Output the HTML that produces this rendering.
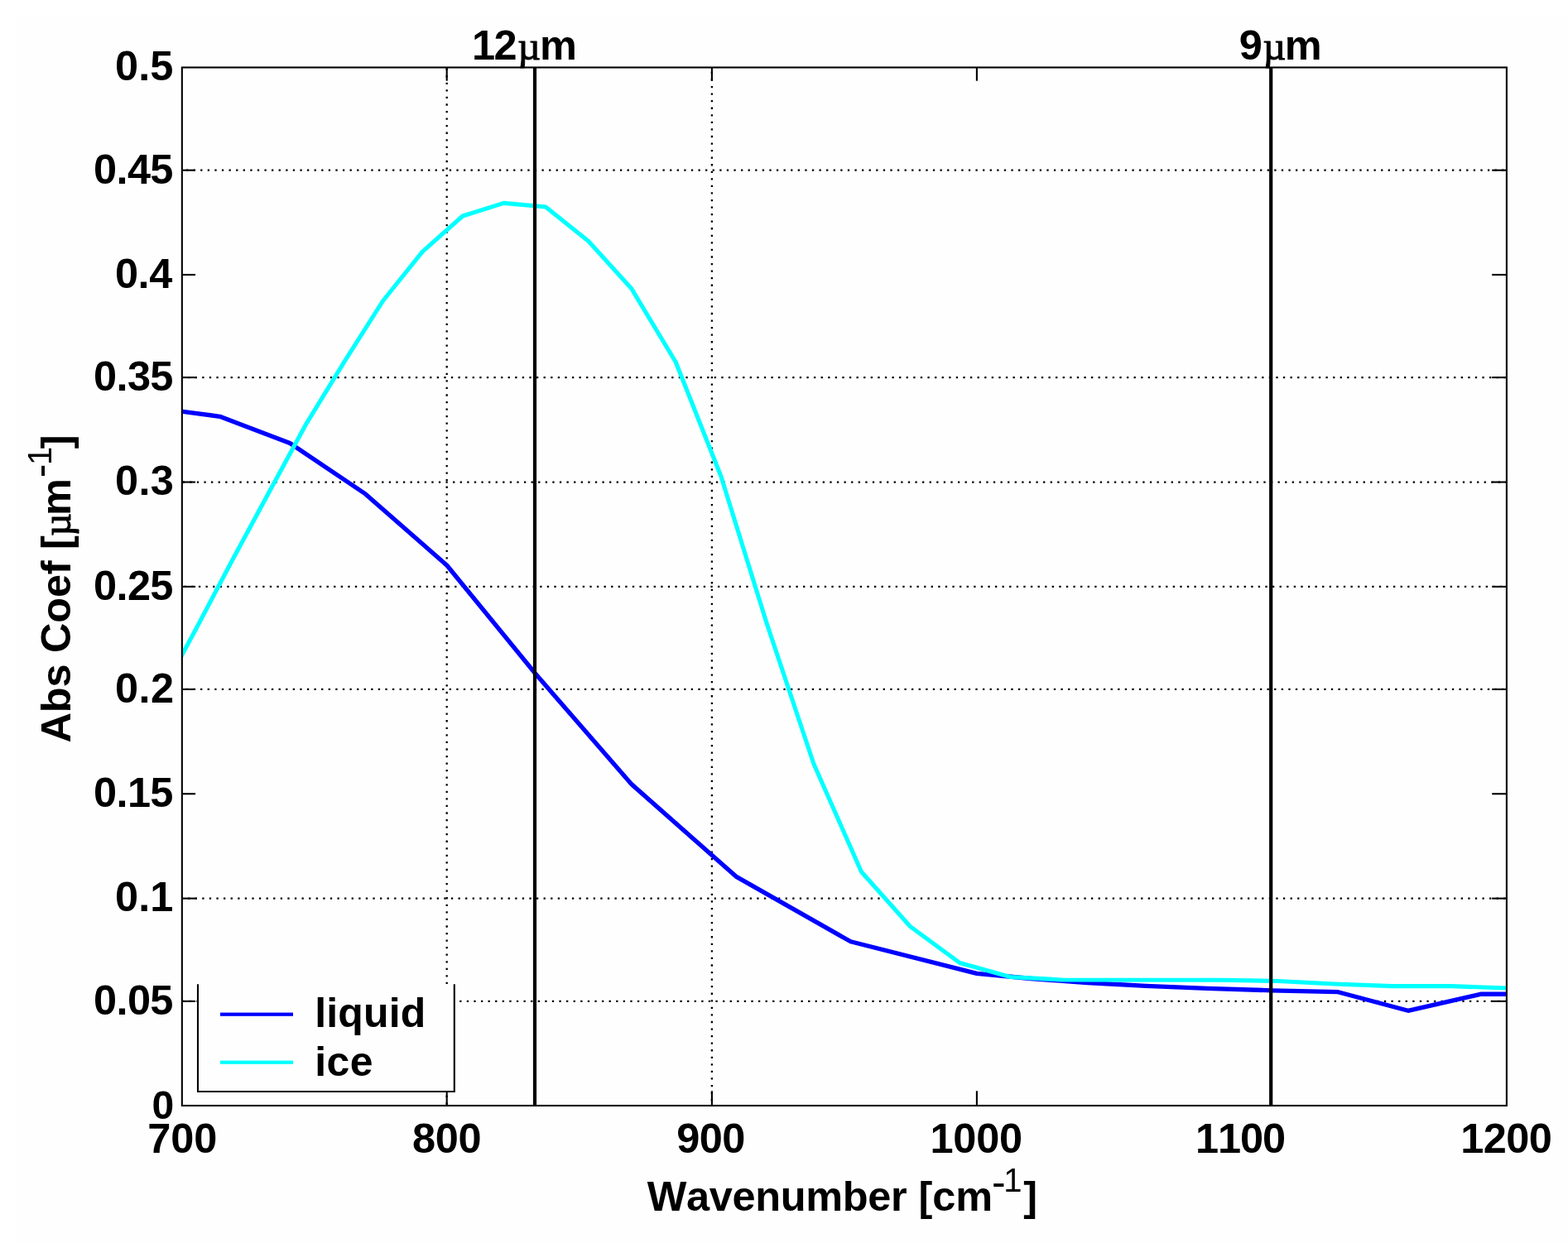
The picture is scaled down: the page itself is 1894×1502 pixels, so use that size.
<!DOCTYPE html>
<html lang="en"><head><meta charset="utf-8"><title>Absorption coefficient of liquid water and ice vs wavenumber</title>
<style>html,body{margin:0;padding:0;background:#fff}body{width:1894px;height:1502px;overflow:hidden}svg{display:block}text{fill:#000;font-family:'Liberation Sans',Arial,Helvetica,sans-serif;font-weight:bold;white-space:pre}</style></head><body>
<svg xmlns="http://www.w3.org/2000/svg" width="1894" height="1502" viewBox="0 0 1894 1502">
<rect x="0" y="0" width="1894" height="1502" fill="#fff"/>
<rect x="21" y="18" width="1873" height="1484" fill="#fefefe"/>
<defs><clipPath id="pc"><rect x="219.85" y="81.50" width="1600.05" height="1254.50"/></clipPath></defs>
<g id="grid" stroke="#000" stroke-width="2.30" fill="none">
<line x1="224.97" y1="205.70" x2="1819.90" y2="205.70" stroke-dasharray="2.30 6.29"/>
<line x1="227.07" y1="456.10" x2="1819.90" y2="456.10" stroke-dasharray="2.30 6.29"/>
<line x1="220.65" y1="582.55" x2="1819.90" y2="582.55" stroke-dasharray="2.30 6.29"/>
<line x1="222.72" y1="708.90" x2="1819.90" y2="708.90" stroke-dasharray="2.30 6.29"/>
<line x1="224.87" y1="832.95" x2="1819.90" y2="832.95" stroke-dasharray="2.30 6.29"/>
<line x1="227.07" y1="1085.65" x2="1819.90" y2="1085.65" stroke-dasharray="2.30 6.29"/>
<line x1="220.17" y1="1209.90" x2="1819.90" y2="1209.90" stroke-dasharray="2.30 6.29"/>
<line x1="539.70" y1="82.57" x2="539.70" y2="1336.00" stroke-dasharray="2.30 6.26"/>
<line x1="859.90" y1="86.80" x2="859.90" y2="1336.00" stroke-dasharray="2.30 6.26"/>
</g>
<g id="curves" clip-path="url(#pc)" fill="none" stroke-linejoin="round" stroke-linecap="butt">
<path id="liquid" stroke="#0000ff" stroke-width="5.3" d="M186.7 492.9 L265.6 503.3 L350.2 535.5 L441.4 596.9 L539.9 683.3 L646.5 813.7 L762.5 947.3 L889.0 1059.1 L1027.5 1137.8 L1179.9 1176.4 L1245.2 1182.5 L1313.2 1187.5 L1384.1 1191.4 L1458.1 1194.4 L1535.4 1196.8 L1616.3 1198.7 L1700.8 1221.3 L1789.4 1201.1 L1882.3 1201.6"/>
<path id="ice" stroke="#00ffff" stroke-width="5.1" d="M214.0 802.5 L220.0 791.0 L237.3 759.0 L280.8 676.5 L325.0 594.8 L370.1 511.8 L415.9 437.2 L462.6 363.5 L510.3 304.1 L558.9 261.0 L608.5 245.4 L659.1 250.0 L710.6 291.3 L762.8 348.8 L816.2 437.5 L870.9 575.5 L926.3 753.7 L982.9 923.0 L1040.5 1053.5 L1099.4 1119.5 L1159.3 1163.5 L1220.4 1180.5 L1282.5 1184.0 L1476.4 1184.2 L1543.6 1185.5 L1612.1 1189.0 L1681.8 1191.6 L1752.9 1191.6 L1825.2 1194.2"/>
</g>
<g id="markers" stroke="#000" stroke-width="4.2" fill="none">
<line x1="646.0" y1="81.50" x2="646.0" y2="1336.00"/>
<line x1="1535.2" y1="81.50" x2="1535.2" y2="1336.00"/>
</g>
<g id="legend">
<rect x="237.95" y="1189.30" width="311.90" height="130.75" fill="#fefefe"/>
<path d="M239.00 1189.30 V1319.00 H548.80 V1189.30" stroke="#000" stroke-width="2.10" fill="none"/>
<rect x="266" y="1223.6" width="88" height="4.2" fill="#0000ff"/>
<rect x="266" y="1281.6" width="88" height="4.2" fill="#00ffff"/>
<text><tspan x="380.31 394.33 408.35 439.02 469.69 483.70" y="1241.00" font-family="'Liberation Sans',Arial,Helvetica,sans-serif" font-weight="bold" font-size="50.00">liquid</tspan></text>
<text><tspan x="380.31 394.52 422.65" y="1300.40" font-family="'Liberation Sans',Arial,Helvetica,sans-serif" font-weight="bold" font-size="50.00">ice</tspan></text>
</g>
<g id="axes" stroke="#000" stroke-width="2.10" fill="none">
<line x1="219.85" y1="1209.90" x2="236.05" y2="1209.90"/>
<line x1="1819.90" y1="1209.90" x2="1802.20" y2="1209.90"/>
<line x1="219.85" y1="1085.65" x2="237.85" y2="1085.65"/>
<line x1="1819.90" y1="1085.65" x2="1802.20" y2="1085.65"/>
<line x1="219.85" y1="959.25" x2="236.05" y2="959.25"/>
<line x1="1819.90" y1="959.25" x2="1802.20" y2="959.25"/>
<line x1="219.85" y1="832.95" x2="236.05" y2="832.95"/>
<line x1="1819.90" y1="832.95" x2="1802.20" y2="832.95"/>
<line x1="219.85" y1="708.90" x2="236.05" y2="708.90"/>
<line x1="1819.90" y1="708.90" x2="1802.20" y2="708.90"/>
<line x1="219.85" y1="582.55" x2="236.05" y2="582.55"/>
<line x1="1819.90" y1="582.55" x2="1802.20" y2="582.55"/>
<line x1="219.85" y1="456.10" x2="237.85" y2="456.10"/>
<line x1="1819.90" y1="456.10" x2="1802.20" y2="456.10"/>
<line x1="219.85" y1="332.00" x2="236.05" y2="332.00"/>
<line x1="1819.90" y1="332.00" x2="1802.20" y2="332.00"/>
<line x1="219.85" y1="205.70" x2="236.05" y2="205.70"/>
<line x1="1819.90" y1="205.70" x2="1802.20" y2="205.70"/>
<line x1="539.70" y1="1336.00" x2="539.70" y2="1319.00"/>
<line x1="539.70" y1="81.50" x2="539.70" y2="97.70"/>
<line x1="859.90" y1="1336.00" x2="859.90" y2="1318.30"/>
<line x1="859.90" y1="81.50" x2="859.90" y2="97.70"/>
<line x1="1179.90" y1="1336.00" x2="1179.90" y2="1318.30"/>
<line x1="1179.90" y1="81.50" x2="1179.90" y2="97.70"/>
<rect x="219.85" y="81.50" width="1600.05" height="1254.50"/>
</g>
<g id="ylabels">
<text><tspan x="183.47" y="1351.80" font-family="'Liberation Sans',Arial,Helvetica,sans-serif" font-weight="bold" font-size="48.00">0</tspan></text>
<text><tspan x="113.10 140.53 153.90 181.32" y="1225.70" font-family="'Liberation Sans',Arial,Helvetica,sans-serif" font-weight="bold" font-size="50.50">0.05</tspan></text>
<text><tspan x="139.00 167.19 181.32" y="1101.45" font-family="'Liberation Sans',Arial,Helvetica,sans-serif" font-weight="bold" font-size="50.50">0.1</tspan></text>
<text><tspan x="113.10 140.53 153.90 181.32" y="975.05" font-family="'Liberation Sans',Arial,Helvetica,sans-serif" font-weight="bold" font-size="50.50">0.15</tspan></text>
<text><tspan x="139.00 167.50 181.94" y="848.75" font-family="'Liberation Sans',Arial,Helvetica,sans-serif" font-weight="bold" font-size="50.50">0.2</tspan></text>
<text><tspan x="113.10 140.53 153.90 181.32" y="724.70" font-family="'Liberation Sans',Arial,Helvetica,sans-serif" font-weight="bold" font-size="50.50">0.25</tspan></text>
<text><tspan x="139.00 167.40 181.74" y="598.35" font-family="'Liberation Sans',Arial,Helvetica,sans-serif" font-weight="bold" font-size="50.50">0.3</tspan></text>
<text><tspan x="113.10 140.53 153.90 181.32" y="471.90" font-family="'Liberation Sans',Arial,Helvetica,sans-serif" font-weight="bold" font-size="50.50">0.35</tspan></text>
<text><tspan x="139.00 166.62 180.19" y="347.80" font-family="'Liberation Sans',Arial,Helvetica,sans-serif" font-weight="bold" font-size="50.50">0.4</tspan></text>
<text><tspan x="113.10 140.53 153.90 181.32" y="221.50" font-family="'Liberation Sans',Arial,Helvetica,sans-serif" font-weight="bold" font-size="50.50">0.45</tspan></text>
<text><tspan x="139.00 167.19 181.32" y="97.30" font-family="'Liberation Sans',Arial,Helvetica,sans-serif" font-weight="bold" font-size="50.50">0.5</tspan></text>
</g>
<g id="xlabels">
<text><tspan x="178.23 206.21 234.19" y="1392.90" font-family="'Liberation Sans',Arial,Helvetica,sans-serif" font-weight="bold" font-size="50.50">700</tspan></text>
<text><tspan x="498.10 525.84 553.59" y="1392.90" font-family="'Liberation Sans',Arial,Helvetica,sans-serif" font-weight="bold" font-size="50.50">800</tspan></text>
<text><tspan x="817.15 844.72 872.29" y="1392.90" font-family="'Liberation Sans',Arial,Helvetica,sans-serif" font-weight="bold" font-size="50.50">900</tspan></text>
<text><tspan x="1123.42 1151.29 1179.16 1207.04" y="1392.90" font-family="'Liberation Sans',Arial,Helvetica,sans-serif" font-weight="bold" font-size="50.50">1000</tspan></text>
<text><tspan x="1444.02 1471.04 1498.06 1525.09" y="1392.90" font-family="'Liberation Sans',Arial,Helvetica,sans-serif" font-weight="bold" font-size="50.50">1100</tspan></text>
<text><tspan x="1764.32 1791.77 1819.23 1846.69" y="1392.90" font-family="'Liberation Sans',Arial,Helvetica,sans-serif" font-weight="bold" font-size="50.50">1200</tspan></text>
</g>
<text id="t12"><tspan x="569.92 596.54" y="71.90" font-family="'Liberation Sans',Arial,Helvetica,sans-serif" font-weight="bold" font-size="50.50">12</tspan><tspan x="625.35" font-family="'Liberation Serif','Times New Roman',serif" font-weight="normal" font-size="48.00" stroke="#000" stroke-width="1" stroke-linejoin="round">µ</tspan><tspan x="652.03" font-family="'Liberation Sans',Arial,Helvetica,sans-serif" font-weight="bold" font-size="50.50">m</tspan></text>
<text id="t9"><tspan x="1496.85" y="71.90" font-family="'Liberation Sans',Arial,Helvetica,sans-serif" font-weight="bold" font-size="50.50">9</tspan><tspan x="1525.55" font-family="'Liberation Serif','Times New Roman',serif" font-weight="normal" font-size="48.00" stroke="#000" stroke-width="1" stroke-linejoin="round">µ</tspan><tspan x="1551.63" font-family="'Liberation Sans',Arial,Helvetica,sans-serif" font-weight="bold" font-size="50.50">m</tspan></text>
<text id="xlabel"><tspan x="781.65 828.97 856.71 884.46 912.20 942.70 973.21 1017.77 1048.27 1076.01" y="1463.30" font-family="'Liberation Sans',Arial,Helvetica,sans-serif" font-weight="bold" font-size="50.50">Wavenumber</tspan><tspan x="1095.50" font-family="'Liberation Sans',Arial,Helvetica,sans-serif" font-weight="bold" font-size="50.50"> </tspan><tspan x="1109.46 1126.16 1154.13" font-family="'Liberation Sans',Arial,Helvetica,sans-serif" font-weight="bold" font-size="50.50">[cm</tspan><tspan x="1197.98" y="1445.00" font-family="'Liberation Sans',Arial,Helvetica,sans-serif" font-weight="normal" font-size="50.00">-</tspan><tspan x="1212.35" y="1439.90" font-family="'Liberation Sans',Arial,Helvetica,sans-serif" font-weight="normal" font-size="40.00">1</tspan><tspan x="1236.18" y="1463.30" font-family="'Liberation Sans',Arial,Helvetica,sans-serif" font-weight="bold" font-size="50.50">]</tspan></text>
<text id="ylabel" transform="translate(85.40,896.20) rotate(-90)"><tspan x="-1.26 34.98 65.59 93.44 107.23 143.46 174.08 201.92 218.51 232.30" y="0.00" font-family="'Liberation Sans',Arial,Helvetica,sans-serif" font-weight="bold" font-size="50.50">Abs Coef [</tspan><tspan x="248.35" font-family="'Liberation Serif','Times New Roman',serif" font-weight="normal" font-size="48.00" stroke="#000" stroke-width="1" stroke-linejoin="round">µ</tspan><tspan x="273.13" font-family="'Liberation Sans',Arial,Helvetica,sans-serif" font-weight="bold" font-size="50.50">m</tspan><tspan x="318.98" y="-20.05" font-family="'Liberation Sans',Arial,Helvetica,sans-serif" font-weight="normal" font-size="50.00">-</tspan><tspan x="334.25" y="-23.40" font-family="'Liberation Sans',Arial,Helvetica,sans-serif" font-weight="normal" font-size="40.00">1</tspan><tspan x="354.02" y="0.00" font-family="'Liberation Sans',Arial,Helvetica,sans-serif" font-weight="bold" font-size="50.50">]</tspan></text>
</svg></body></html>
